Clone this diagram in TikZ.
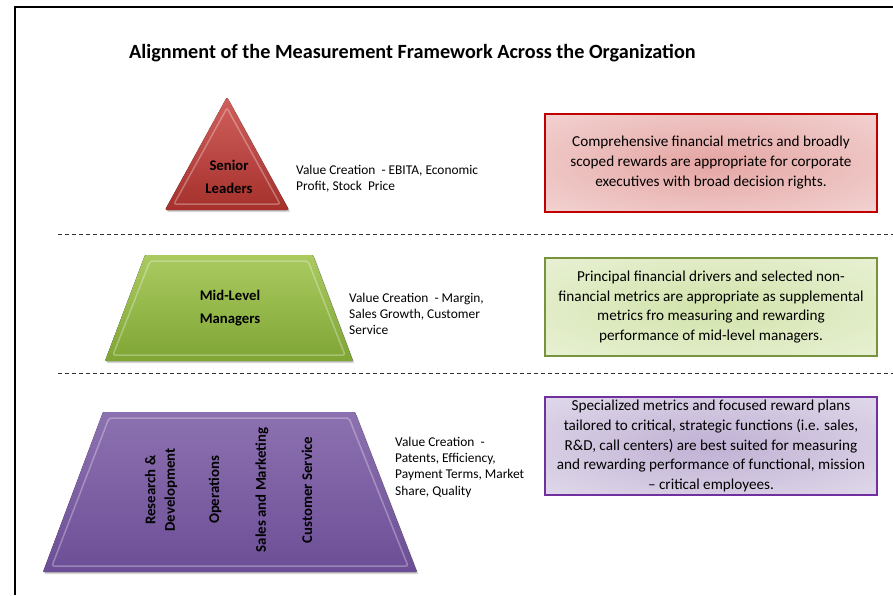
\documentclass[tikz,border=0pt]{standalone}
\usepackage{fontspec}
\setmainfont{Carlito}
\usetikzlibrary{shadows}
\definecolor{seniorred}{HTML}{C8443F}
\definecolor{seniordark}{HTML}{A5302C}
\definecolor{midgreen}{HTML}{9BC144}
\definecolor{middark}{HTML}{7FA535}
\definecolor{basepurple}{HTML}{8062A8}
\definecolor{basedark}{HTML}{6C4E96}
\definecolor{redframe}{HTML}{C00000}
\definecolor{greenframe}{HTML}{77933C}
\definecolor{purpleframe}{HTML}{7030A0}
\pgfdeclareradialshading{redglow}{\pgfpoint{0bp}{0bp}}{color(0bp)=(seniorred!48!white); color(50bp)=(seniorred!14!white); color(72bp)=(seniorred!10!white)}
\pgfdeclareradialshading{greenglow}{\pgfpoint{0bp}{0bp}}{color(0bp)=(midgreen!45!white); color(50bp)=(midgreen!14!white); color(72bp)=(midgreen!10!white)}
\pgfdeclareradialshading{purpleglow}{\pgfpoint{0bp}{0bp}}{color(0bp)=(basepurple!50!white); color(50bp)=(basepurple!14!white); color(72bp)=(basepurple!10!white)}
\tikzset{
  levelshape/.style={drop shadow={shadow xshift=1.5pt,shadow yshift=-2pt,opacity=0.35}},
  bevel/.style={draw=white,line width=1.5pt,opacity=0.3,rounded corners=2pt},
  levellabel/.style={align=center,inner sep=0pt,font=\bfseries\fontsize{14.7}{23}\selectfont},
  unitlabel/.style={rotate=90,align=center,inner sep=0pt,font=\bfseries\fontsize{14.8}{19.5}\selectfont},
  valuetext/.style={anchor=west,align=left,inner sep=0pt,font=\fontsize{13.4}{16.3}\selectfont},
  notebox/.style={draw,line width=2pt,minimum width=332pt,minimum height=98pt,inner sep=0pt,
    align=center,font=\fontsize{15.2}{19.6}\selectfont},
  levelrule/.style={dashed,dash pattern=on 4pt off 3pt,line width=0.8pt,black!80}
}
\begin{document}
\begin{tikzpicture}[x=1pt,y=-1pt]
  \useasboundingbox (0,0) rectangle (893,595);
  % frame
  \draw[line width=2pt] (15,595) -- (15,7) -- (893,7);
  % title
  \node[anchor=west,inner sep=0pt,font=\bfseries\fontsize{20.2}{24}\selectfont] (title) at (129,53)
    {Alignment of the Measurement Framework Across the Organization};
  % senior leaders
  \fill[levelshape,rounded corners=2pt,top color=seniorred!85!white,bottom color=seniordark]
    (227,97) -- (289,210) -- (165,210) -- cycle;
  \draw[bevel] (227,108) -- (280,204) -- (174,204) -- cycle;
  \node[levellabel] (senior) at (229,177) {Senior\\Leaders};
  \node[valuetext] (seniorvalue) at (296,179) {Value Creation\ \ - EBITA, Economic\\Profit, Stock\ \ Price};
  \node[notebox,draw=redframe,shading=redglow] (seniorbox) at (711,162.5)
    {Comprehensive financial metrics and broadly\\scoped rewards are appropriate for corporate\\executives with broad decision rights.};
  \draw[levelrule] (58,234) -- (893,234);
  % mid-level managers
  \fill[levelshape,rounded corners=1pt,top color=midgreen!85!white,bottom color=middark]
    (145,255) -- (313,255) -- (353,361) -- (105,361) -- cycle;
  \draw[bevel] (150,261) -- (308,261) -- (345,355) -- (113,355) -- cycle;
  \node[levellabel] (middle) at (230,308) {Mid-Level\\Managers};
  \node[valuetext] (middlevalue) at (349,314) {Value Creation\ \ - Margin,\\Sales Growth, Customer\\Service};
  \node[notebox,draw=greenframe,shading=greenglow] (middlebox) at (711,307)
    {Principal financial drivers and selected non-\\financial metrics are appropriate as supplemental\\metrics fro measuring and rewarding\\performance of mid-level managers.};
  \draw[levelrule] (58,373) -- (893,373);
  % functional employees
  \fill[levelshape,rounded corners=1pt,top color=basepurple!90!white,bottom color=basedark]
    (103,412) -- (355,412) -- (417,572) -- (43,572) -- cycle;
  \draw[bevel] (109,418) -- (349,418) -- (408,566) -- (52,566) -- cycle;
  \node[unitlabel] (research) at (161,490) {Research \&\\Development};
  \node[unitlabel] (operations) at (215,490) {Operations};
  \node[unitlabel] (sales) at (262,490) {Sales and Marketing};
  \node[unitlabel] (service) at (307,490) {Customer Service};
  \node[valuetext] (basevalue) at (395,467) {Value Creation\ \ -\\Patents, Efficiency,\\Payment Terms, Market\\Share, Quality};
  \node[notebox,draw=purpleframe,shading=purpleglow] (basebox) at (711,446)
    {Specialized metrics and focused reward plans\\tailored to critical, strategic functions (i.e. sales,\\R\&D, call centers) are best suited for measuring\\and rewarding performance of functional, mission\\-- critical employees.};
\end{tikzpicture}
\end{document}
